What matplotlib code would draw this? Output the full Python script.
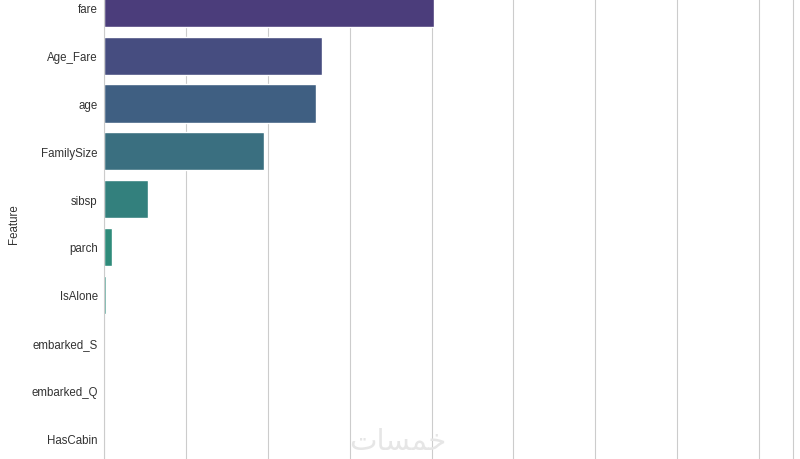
import matplotlib
matplotlib.use("Agg")
import matplotlib.pyplot as plt
import seaborn as sns
import pandas as pd

features = ["fare", "Age_Fare", "age", "FamilySize", "sibsp", "parch",
            "IsAlone", "embarked_S", "embarked_Q", "HasCabin"]
importance = [0.2014, 0.1332, 0.1293, 0.0977, 0.0271, 0.0049,
              0.0010, 0.0, 0.0, 0.0]

# bar colours (desaturated viridis steps)
bar_colors = ["#4b3d7b", "#464d80", "#3f5f82", "#3a6f80", "#33807d",
              "#2f8b7a", "#3a9585", "#46a07c", "#5aab72", "#74b667"]

df = pd.DataFrame({"Feature": features, "Importance": importance})

sns.set_style("whitegrid")
plt.rcParams["font.family"] = ["Liberation Sans", "DejaVu Sans"]

fig = plt.figure(figsize=(8, 4.6), dpi=100)
# the picture is a crop: axes run past the top and bottom edges
ax = fig.add_axes([0.13, -0.0063, 0.86125, 1.0387])

sns.barplot(data=df, x="Importance", y="Feature", hue="Feature",
            palette=bar_colors, saturation=1, legend=False, ax=ax)

ax.set_xlim(0, 0.4207)
ax.set_xticks([0.05 * i for i in range(9)])
ax.set_xticklabels([])
ax.set_xlabel("")
ax.set_ylabel("Feature", fontsize=8.3, color="#333333", labelpad=8)
ax.tick_params(axis="y", labelsize=8.3, pad=1, colors="#333333")

# site watermark
fig.text(0.4975, 0.04, "\ufe95\ufe8e\ufeb4\ufee4\ufea7", fontsize=21,
         color="#e6e6e6", family=["DejaVu Sans"], ha="center", va="center")

fig.savefig("out.png", dpi=100)
